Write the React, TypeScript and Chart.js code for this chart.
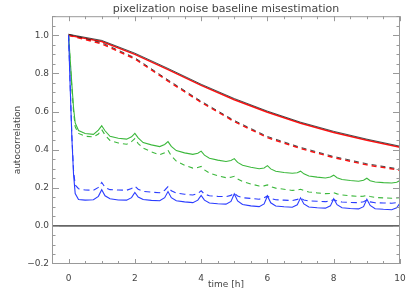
import { useEffect, useRef } from "react";
import { Chart, registerables } from "chart.js";
Chart.register(...registerables);

const titleText = "pixelization noise baseline misestimation";
const xTitle = "time [h]";
const yTitle = "autocorrelation";

const xTickValues = [0, 2, 4, 6, 8, 10];
const yTickValues = [-0.2, 0, 0.2, 0.4, 0.6, 0.8, 1.0];
const yTickLabels = ["\u22120.2", "0.0", "0.2", "0.4", "0.6", "0.8", "1.0"];

const hours = [0, 1, 2, 3, 4, 5, 6, 7, 8, 9, 10];
const redSolid = [1.0, 0.967, 0.9, 0.82, 0.737, 0.662, 0.596, 0.538, 0.49, 0.449, 0.412];
const blackSolid = [1.005, 0.973, 0.906, 0.826, 0.743, 0.668, 0.602, 0.544, 0.496, 0.455, 0.418];
const redDashed = [1.0, 0.955, 0.876, 0.76, 0.648, 0.547, 0.463, 0.406, 0.358, 0.32, 0.292];
const blackDashed = [1.005, 0.961, 0.882, 0.766, 0.654, 0.553, 0.469, 0.412, 0.364, 0.326, 0.298];

const times = [
  0, 0.05, 0.1, 0.15, 0.2, 0.3, 0.5, 0.75, 0.9, 1.0,
  1.1, 1.25, 1.5, 1.75, 1.9, 2.0,
  2.1, 2.25, 2.5, 2.75, 2.9, 3.0,
  3.1, 3.25, 3.5, 3.75, 3.9, 4.0,
  4.1, 4.25, 4.5, 4.75, 4.9, 5.0,
  5.1, 5.25, 5.5, 5.75, 5.9, 6.0,
  6.1, 6.25, 6.5, 6.75, 6.9, 7.0,
  7.1, 7.25, 7.5, 7.75, 7.9, 8.0,
  8.1, 8.25, 8.5, 8.75, 8.9, 9.0,
  9.1, 9.25, 9.5, 9.75, 9.9, 10.0,
];

const greenSolid = [
  1.0, 0.87, 0.74, 0.62, 0.54, 0.5, 0.485, 0.48, 0.502, 0.525,
  0.499, 0.47, 0.46, 0.455, 0.467, 0.485,
  0.462, 0.437, 0.425, 0.416, 0.427, 0.442,
  0.417, 0.395, 0.383, 0.375, 0.381, 0.392,
  0.371, 0.355, 0.345, 0.338, 0.343, 0.353,
  0.333, 0.318, 0.308, 0.3, 0.304, 0.316,
  0.299, 0.287, 0.28, 0.276, 0.279, 0.287,
  0.273, 0.262, 0.256, 0.251, 0.256, 0.266,
  0.253, 0.243, 0.238, 0.234, 0.239, 0.25,
  0.237, 0.23, 0.227, 0.225, 0.229, 0.238,
];

const greenDashed = [
  1.0, 0.86, 0.72, 0.6, 0.52, 0.485, 0.47, 0.467, 0.482, 0.505,
  0.477, 0.448, 0.435, 0.428, 0.442, 0.458,
  0.432, 0.408, 0.388, 0.373, 0.384, 0.397,
  0.367, 0.34, 0.318, 0.303, 0.306, 0.312,
  0.294, 0.277, 0.263, 0.253, 0.255, 0.26,
  0.246, 0.233, 0.22, 0.209, 0.21, 0.215,
  0.206, 0.198, 0.192, 0.186, 0.188, 0.192,
  0.185, 0.178, 0.173, 0.169, 0.17, 0.174,
  0.168, 0.162, 0.158, 0.154, 0.156, 0.159,
  0.154, 0.149, 0.147, 0.145, 0.146, 0.148,
];

const blueSolid = [
  1.0, 0.72, 0.46, 0.27, 0.17, 0.138, 0.135, 0.137, 0.155, 0.19,
  0.158, 0.142, 0.136, 0.135, 0.148, 0.175,
  0.151, 0.138, 0.134, 0.132, 0.148, 0.18,
  0.148, 0.132, 0.126, 0.122, 0.135, 0.16,
  0.135, 0.12, 0.116, 0.114, 0.128, 0.168,
  0.131, 0.112, 0.105, 0.101, 0.115, 0.157,
  0.121, 0.104, 0.1, 0.098, 0.111, 0.147,
  0.115, 0.099, 0.095, 0.093, 0.105, 0.142,
  0.111, 0.095, 0.091, 0.089, 0.101, 0.14,
  0.107, 0.09, 0.087, 0.085, 0.095, 0.12,
];

const blueDashed = [
  1.0, 0.73, 0.47, 0.29, 0.215, 0.195, 0.188, 0.187, 0.202, 0.228,
  0.202, 0.19, 0.188, 0.187, 0.196, 0.208,
  0.192, 0.181, 0.177, 0.174, 0.187, 0.206,
  0.184, 0.172, 0.166, 0.162, 0.17, 0.184,
  0.167, 0.158, 0.155, 0.153, 0.16, 0.172,
  0.157, 0.148, 0.144, 0.14, 0.147, 0.157,
  0.144, 0.137, 0.135, 0.133, 0.139, 0.146,
  0.136, 0.131, 0.129, 0.127, 0.131, 0.138,
  0.13, 0.125, 0.123, 0.122, 0.127, 0.136,
  0.126, 0.121, 0.12, 0.119, 0.122, 0.126,
];

const X_MIN = -0.5;
const X_MAX = 10;
const Y_MIN = -0.2;
const Y_MAX = 1.1;

const FONT = "'DejaVu Sans', sans-serif";
const TEXT_COLOR = "#444";
const FRAME_COLOR = "#999";

const toPts = (xs: number[], ys: number[]) => xs.map((x, i) => ({ x, y: ys[i] }));

const framePlugin = {
  id: "idlFrame",
  beforeDatasetsDraw(chart: any) {
    const { ctx, chartArea: a, scales } = chart;
    const ys = scales.y;
    ctx.save();
    ctx.strokeStyle = "#666";
    ctx.lineWidth = 1.6;
    const y0 = ys.getPixelForValue(0);
    ctx.beginPath();
    ctx.moveTo(a.left, y0);
    ctx.lineTo(a.right, y0);
    ctx.stroke();
    ctx.restore();
  },
  afterDatasetsDraw(chart: any) {
    const { ctx, chartArea: a, scales } = chart;
    const xs = scales.x;
    const ys = scales.y;
    ctx.save();
    ctx.strokeStyle = FRAME_COLOR;
    ctx.lineWidth = 1;
    ctx.strokeRect(a.left + 0.5, a.top + 0.5, a.right - a.left - 1, a.bottom - a.top - 1);
    ctx.beginPath();
    for (let i = 0; i <= 20; i++) {
      const v = i * 0.5;
      const px = Math.round(xs.getPixelForValue(v)) + 0.5;
      const len = i % 4 === 0 ? 5 : 3;
      ctx.moveTo(px, a.bottom);
      ctx.lineTo(px, a.bottom - len);
      ctx.moveTo(px, a.top);
      ctx.lineTo(px, a.top + len);
    }
    for (let i = -4; i <= 22; i++) {
      const v = i * 0.05;
      const py = Math.round(ys.getPixelForValue(v)) + 0.5;
      if (py < a.top || py > a.bottom) continue;
      const len = ((i % 4) + 4) % 4 === 0 ? 7 : 3.5;
      ctx.moveTo(a.left, py);
      ctx.lineTo(a.left + len, py);
      ctx.moveTo(a.right, py);
      ctx.lineTo(a.right - len, py);
    }
    ctx.stroke();
    ctx.restore();
  },
};

export default function App() {
  const ref = useRef<HTMLCanvasElement | null>(null);
  useEffect(() => {
    document.body.style.margin = "0";
    const canvas = ref.current;
    if (!canvas) return;
    const line = (data: any, color: string, width: number, dash: number[] = []) => ({
      data,
      borderColor: color,
      borderWidth: width,
      borderDash: dash,
      pointRadius: 0,
      fill: false,
      tension: 0,
    });
    const chart = new Chart(canvas, {
      type: "line",
      data: {
        datasets: [
          line(toPts(times, blueDashed), "#2a3cff", 1.1, [6, 4]),
          line(toPts(times, blueSolid), "#2a3cff", 1.1),
          line(toPts(times, greenDashed), "#3cb83c", 1.1, [5, 4]),
          line(toPts(times, greenSolid), "#3cb83c", 1.1),
          line(toPts(hours, blackDashed), "#222", 0.8, [5, 4]),
          line(toPts(hours, redDashed), "#ff1010", 1.5, [5, 4]),
          line(toPts(hours, blackSolid), "#222", 0.8),
          line(toPts(hours, redSolid), "#ff1010", 1.5),
        ] as any,
      },
      options: {
        animation: false,
        responsive: false,
        events: [],
        layout: { padding: { left: 0, right: 15, top: 0, bottom: 0 } },
        plugins: {
          legend: { display: false },
          tooltip: { enabled: false },
          title: {
            display: true,
            text: titleText,
            fullSize: false,
            color: TEXT_COLOR,
            font: { family: FONT, size: 11, weight: "normal" },
            padding: { top: 3, bottom: 0 },
          },
        },
        scales: {
          x: {
            type: "linear",
            min: X_MIN,
            max: X_MAX,
            grid: { display: false, drawTicks: false },
            border: { display: false },
            afterBuildTicks: (s: any) => {
              s.ticks = xTickValues.map((v) => ({ value: v }));
            },
            afterFit: (s: any) => {
              s.height = 33;
            },
            ticks: {
              autoSkip: false,
              maxRotation: 0,
              padding: 9,
              color: TEXT_COLOR,
              font: { family: FONT, size: 9 },
              callback: (v: any) => String(v),
            },
            title: {
              display: true,
              text: xTitle,
              color: TEXT_COLOR,
              font: { family: FONT, size: 9 },
              padding: { top: 0, bottom: 7 },
            },
          },
          y: {
            type: "linear",
            min: Y_MIN,
            max: Y_MAX,
            grid: { display: false, drawTicks: false },
            border: { display: false },
            afterBuildTicks: (s: any) => {
              s.ticks = yTickValues.map((v) => ({ value: v }));
            },
            afterFit: (s: any) => {
              s.width = 52;
            },
            ticks: {
              autoSkip: false,
              padding: 3,
              color: TEXT_COLOR,
              font: { family: FONT, size: 9 },
              callback: (v: any) => {
                const i = yTickValues.findIndex((t) => Math.abs(t - v) < 1e-6);
                return i >= 0 ? yTickLabels[i] : "";
              },
            },
            title: {
              display: true,
              text: yTitle,
              color: TEXT_COLOR,
              font: { family: FONT, size: 9 },
              padding: { top: 12.5, bottom: 0 },
            },
          },
        },
      } as any,
      plugins: [framePlugin],
    });
    return () => chart.destroy();
  }, []);
  return (
    <div style={{ width: 415, height: 297 }}>
      <canvas ref={ref} width={415} height={297} style={{ display: "block", width: 415, height: 297 }} />
    </div>
  );
}
